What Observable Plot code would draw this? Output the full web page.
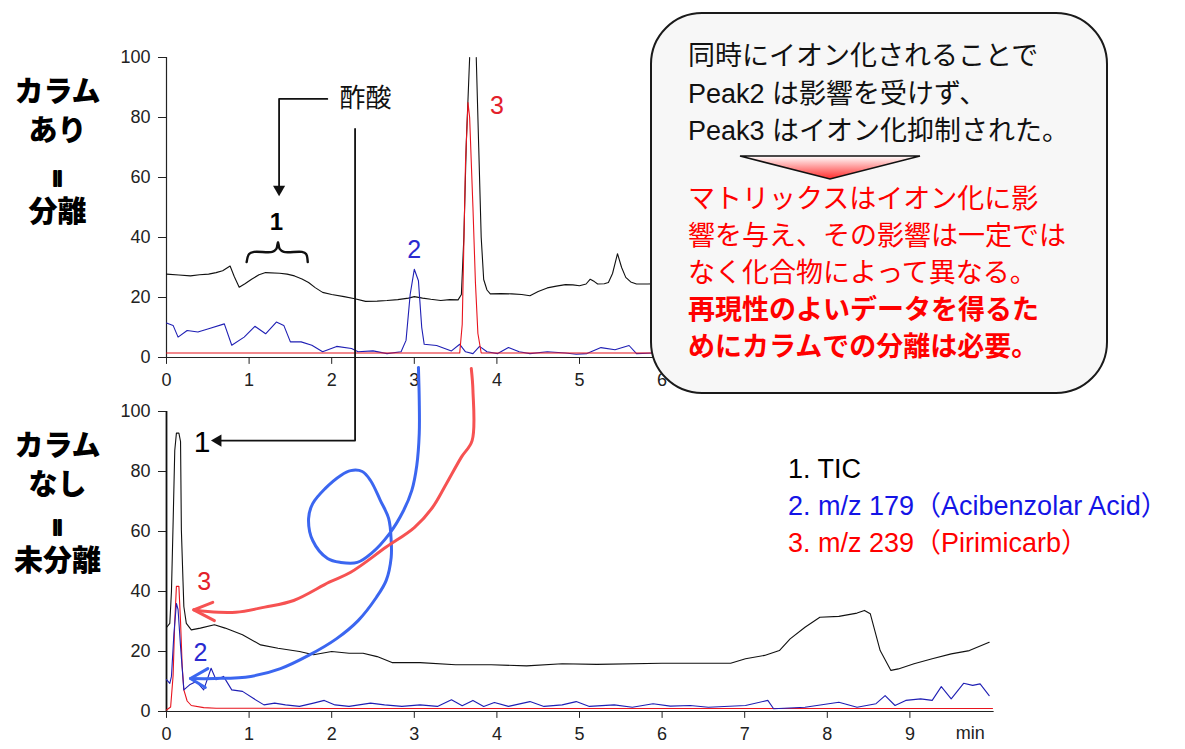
<!DOCTYPE html>
<html><head><meta charset="utf-8">
<script src="https://cdn.jsdelivr.net/npm/d3@7"></script>
<script src="https://cdn.jsdelivr.net/npm/@observablehq/plot@0.6"></script>
<style>
html,body{margin:0;padding:0;background:#fff;overflow:hidden;}
#wrap{position:relative;width:1185px;height:749px;overflow:hidden;background:#fff;font-family:"Liberation Sans","Noto Sans CJK JP",sans-serif;}
#chart{position:absolute;left:0;top:0;}
#box{position:absolute;left:650px;top:12px;width:454px;height:378px;border:2px solid #1a1a1a;border-radius:52px;background:#f7f7f7;}
.blk{position:absolute;left:36px;white-space:nowrap;font-size:27px;}
#black{top:24px;line-height:37.5px;color:#111;}
#red{top:167px;line-height:37px;color:#ff0000;}
#red b{font-weight:700;}
#tri{position:absolute;left:87px;top:141px;}
#legend{position:absolute;left:788px;top:451px;font-size:27px;line-height:37px;white-space:nowrap;}
</style></head>
<body>
<div id="wrap">
  <div id="chart"></div>
  <div id="box">
    <div id="black" class="blk"></div>
    <svg id="tri" width="182" height="26">
      <defs><linearGradient id="g" x1="0" y1="0" x2="0" y2="1">
        <stop offset="0" stop-color="#ffffff"/><stop offset="1" stop-color="#ff2a2a"/></linearGradient></defs>
      <polygon points="1,1 181,1 91,24" fill="url(#g)" stroke="#111" stroke-width="1.5" stroke-linejoin="miter"/>
    </svg>
    <div id="red" class="blk"></div>
  </div>
  <div id="legend"></div>
</div>
<script>
// ---------- data ----------
const xTicks = [0,1,2,3,4,5,6,7,8,9];
const yTicks = [0,20,40,60,80,100];
const seriesNames = ["1. TIC", "2. m/z 179（Acibenzolar Acid）", "3. m/z 239（Pirimicarb）"];
const seriesColors = ["#000000", "#1414e6", "#ff0000"];
const boxBlack = ["同時にイオン化されることで", "Peak2 は影響を受けず、", "Peak3 はイオン化抑制された。"];
const boxRed = ["マトリックスはイオン化に影", "響を与え、その影響は一定では", "なく化合物によって異なる。"];
const boxRedBold = ["再現性のよいデータを得るた", "めにカラムでの分離は必要。"];
const sideTop = ["カラム", "あり", "||", "分離"];
const sideBottom = ["カラム", "なし", "||", "未分離"];

// top panel (with column): [min, %]; NaN = off scale (above 100)
const topTIC = [[0,27.8],[0.15,27.5],[0.29,27.2],[0.4,27.6],[0.51,27.8],[0.6,28.3],[0.68,28.9],[0.77,30.5],[0.82,27],[0.88,23.4],[0.95,24.6],[1.03,26.1],[1.12,27.6],[1.2,28.3],[1.37,28.1],[1.46,27.8],[1.55,27.2],[1.64,26.2],[1.72,25],[1.8,23.3],[1.89,21.7],[2.0,21],[2.15,20.3],[2.28,19.6],[2.41,18.7],[2.55,18.8],[2.67,19],[2.8,19.3],[2.93,19.8],[3.0,20.3],[3.1,19.8],[3.2,19.4],[3.32,19],[3.43,19.3],[3.53,19.2],[3.57,21],[3.6,40],[3.63,72],[3.67,100],[3.71,NaN],[3.75,100],[3.78,70],[3.81,40],[3.84,26],[3.88,22.5],[3.92,21.2],[4.05,21.3],[4.18,21.2],[4.3,21],[4.4,20.6],[4.5,22],[4.61,23.2],[4.72,23.8],[4.83,24.3],[4.92,24.2],[5.0,23.9],[5.08,24.5],[5.13,26.1],[5.18,25.3],[5.22,24.5],[5.3,24.6],[5.35,25],[5.4,28],[5.46,34.6],[5.51,30],[5.56,26.7],[5.62,25.2],[5.69,24.5],[5.82,24.5],[5.95,24.6]];
const topMz179 = [[0,11.5],[0.08,10.7],[0.14,6.8],[0.25,9],[0.38,8.5],[0.51,9.6],[0.7,11.2],[0.79,4.1],[0.94,6.8],[1.07,10.4],[1.2,7.9],[1.33,11.8],[1.42,10.7],[1.5,5.2],[1.63,5.2],[1.76,4.1],[1.89,1.9],[2.06,3.7],[2.24,3],[2.32,1.9],[2.5,2.2],[2.67,1.3],[2.84,1.9],[2.9,5.7],[2.95,21],[3.0,29.4],[3.05,25.6],[3.09,10],[3.12,4.4],[3.27,4],[3.45,2.2],[3.55,4.4],[3.62,1.9],[3.71,1.3],[3.79,3.7],[3.88,1.9],[4.01,1.3],[4.14,3.3],[4.27,1.9],[4.4,1.3],[4.61,1.9],[4.83,1.5],[4.96,1.1],[5.09,1.3],[5.26,3.3],[5.43,2.6],[5.6,4],[5.69,1.3],[5.9,1.5]];
const topMz239 = [[0,1.5],[1,1.5],[2,1.5],[3,1.5],[3.55,1.5],[3.58,11],[3.62,65],[3.65,85],[3.67,80],[3.71,50],[3.74,25],[3.77,8],[3.81,1.5],[4.5,1.5],[5.2,1.5],[5.95,1.5]];

// bottom panel (no column)
const botTIC = [[0,28],[0.04,29.4],[0.06,40],[0.08,62.8],[0.1,87],[0.12,92.8],[0.15,92.8],[0.17,90],[0.18,60.6],[0.2,43.3],[0.21,35],[0.24,29.4],[0.3,27.2],[0.41,27.8],[0.58,28.9],[0.71,27.8],[0.92,25.6],[1.14,22.2],[1.35,21.1],[1.61,20],[1.78,18.9],[2.0,20],[2.21,19.4],[2.38,19.4],[2.55,18.3],[2.73,16.3],[3.07,16.3],[3.5,15.6],[3.93,15.6],[4.36,15.2],[4.79,15.9],[5.21,15.7],[6.0,16.1],[6.83,16.1],[7.01,17.6],[7.24,18.7],[7.42,20.3],[7.55,24.2],[7.73,28.1],[7.91,31.4],[8.14,31.7],[8.36,32.8],[8.45,33.7],[8.52,32.6],[8.64,20.3],[8.77,13.7],[8.86,14.2],[9.05,15.9],[9.27,17.6],[9.5,19.2],[9.72,20.3],[9.96,23.1]];
const botMz179 = [[0,10.6],[0.04,9.4],[0.06,11.7],[0.09,26],[0.12,36],[0.14,34],[0.17,21.7],[0.21,7.2],[0.28,8.9],[0.36,10],[0.45,7.2],[0.54,14.4],[0.6,10.6],[0.69,11.7],[0.79,7.2],[0.92,6.7],[1.05,4.4],[1.18,2.2],[1.31,2.8],[1.44,2.2],[1.61,1.7],[1.78,2.8],[1.91,3.7],[2.04,2.2],[2.21,1.7],[2.47,2.8],[2.64,2.2],[2.85,1.7],[3.07,2.2],[3.28,1.7],[3.45,3.9],[3.58,1.9],[3.71,3.7],[3.84,1.7],[3.97,3],[4.14,1.7],[4.4,3.3],[4.57,1.7],[4.79,2.2],[4.96,3.3],[5.12,1.7],[5.42,2.2],[5.64,1.4],[5.89,2.6],[6.1,1.8],[6.34,2],[6.56,1.4],[7.01,2],[7.28,3.7],[7.35,0.9],[7.73,1.4],[8.14,3.1],[8.36,1.4],[8.59,2.6],[8.7,5.3],[8.82,2],[8.95,3.7],[9.13,4.2],[9.27,3.7],[9.38,8.3],[9.5,4.2],[9.65,9.4],[9.76,8.7],[9.85,9.2],[9.96,5.3]];
const botMz239 = [[0,0.5],[0.05,1.5],[0.08,12],[0.1,30],[0.12,41.7],[0.15,41.7],[0.17,30],[0.19,15],[0.21,7.2],[0.25,3.5],[0.3,2],[0.45,1.3],[0.6,1.1],[2,1],[4,1],[6,1],[8,1],[10,1]];

// hand-drawn annotation strokes, in bottom-panel units (min, %), extended above 100 toward the top panel
const blueStroke = [[3.05,114.7],[3.06,103.7],[3.06,92.7],[3.03,82],[2.97,73.7],[2.87,67],[2.70,59.3],[2.48,52.7],[2.31,49.7],[2.11,49.7],[1.95,51],[1.77,57],[1.72,64.3],[1.77,69.3],[1.92,74.3],[2.11,78.7],[2.23,80.3],[2.37,80],[2.47,77],[2.59,70.3],[2.69,64.3],[2.72,57],[2.72,51.3],[2.66,43.7],[2.54,38],[2.32,30.3],[2.06,24.3],[1.72,18.7],[1.38,14.3],[1.02,11.7],[0.59,11],[0.29,11]];
const blueHead = [[0.50,14.3],[0.29,11],[0.47,8]];
const redStroke = [[3.69,114.3],[3.71,107],[3.70,90.3],[3.57,84.8],[3.39,76],[3.22,68],[3.0,61.3],[2.66,54.8],[2.23,46.4],[1.97,43.1],[1.54,37],[1.19,34.8],[0.84,33.1],[0.50,33.3],[0.33,33.9]];
const redHead = [[0.56,36.4],[0.33,33.9],[0.58,30.3]];
// curly brace over region "1" (top panel units)
const brace = [[0.97,31.8],[1.0,34.5],[1.06,35.2],[1.28,35.2],[1.33,36.2],[1.35,38.4],[1.37,36.2],[1.42,35.2],[1.64,35.2],[1.69,34.5],[1.71,31.8]];

// ---------- build ----------
const OFF = 118; // top panel zero, in shared vertical units
const rows = (arr, off) => arr.map(([t, v]) => ({t, y: v + off}));
const pts = (arr, off=0) => arr.map(([t, v]) => ({t, y: v + off}));
const jp = '"Noto Sans CJK JP", sans-serif';
const lat = '"Liberation Sans", Arial, sans-serif';

const xTickRows = xTicks.flatMap(t => [{t, y1: OFF, y2: OFF - 2.3}, {t, y1: 0, y2: -2.3}]);
const xLabRows = xTicks.flatMap(t => [{t, y: OFF, s: String(t)}, {t, y: 0, s: String(t)}]);
const yTickRows = yTicks.flatMap(v => [{v, y: v}, {v, y: v + OFF}]);

const sideX = -1.32;
const sideRows = [
  ...sideTop.map((s, i) => ({s, y: [206.3, 193.3, 178, 166.3][i]})),
  ...sideBottom.map((s, i) => ({s, y: [88.3, 75.3, 61.6, 49.8][i]}))
];

const chart = Plot.plot({
  width: 1185, height: 749,
  marginLeft: 166, marginRight: 193, marginTop: 21, marginBottom: 38,
  x: {domain: [0, 10], axis: null},
  y: {domain: [0, 230], axis: null},
  style: {background: "transparent", fontFamily: lat},
  marks: [
    // axes lines
    Plot.ruleY([OFF, 0], {x1: 0, x2: 10.02, stroke: "#222", strokeWidth: 1.2}),
    Plot.ruleX([0], {y1: OFF, y2: OFF + 100, stroke: "#222", strokeWidth: 1.2}),
    Plot.ruleX([0], {y1: 0, y2: 100, stroke: "#111", strokeWidth: 1.8}),
    // ticks
    Plot.ruleY(yTickRows, {y: "y", x1: -0.097, x2: 0, stroke: "#222"}),
    Plot.ruleX(xTickRows, {x: "t", y1: "y1", y2: "y2", stroke: "#222"}),
    Plot.text(yTickRows, {x: 0, y: "y", text: d => String(d.v), dx: -16, textAnchor: "end", fontSize: 18, fill: "#222"}),
    Plot.text(xLabRows, {x: "t", y: "y", text: "s", dy: 23, fontSize: 18, fill: "#222"}),
    Plot.text([OFF, 0], {x: 9.73, y: d => d, text: () => "min", dy: 22, fontSize: 18, fill: "#222"}),
    // chromatogram traces
    Plot.line(rows(topTIC, OFF), {x: "t", y: "y", stroke: "#111", strokeWidth: 1.1}),
    Plot.line(rows(topMz179, OFF), {x: "t", y: "y", stroke: "#1f1fb4", strokeWidth: 1.1}),
    Plot.line(rows(topMz239, OFF), {x: "t", y: "y", stroke: "#e8141e", strokeWidth: 1.1}),
    Plot.line(rows(botTIC, 0), {x: "t", y: "y", stroke: "#111", strokeWidth: 1.1}),
    Plot.line(rows(botMz239, 0), {x: "t", y: "y", stroke: "#e8141e", strokeWidth: 1.1}),
    Plot.line(rows(botMz179, 0), {x: "t", y: "y", stroke: "#1f1fb4", strokeWidth: 1.1}),
    // peak labels
    Plot.text([{t: 3.0, y: 154, s: "2"}], {x: "t", y: "y", text: "s", fontSize: 25, fill: "#2a2ad0"}),
    Plot.text([{t: 4.0, y: 202, s: "3"}], {x: "t", y: "y", text: "s", fontSize: 25, fill: "#e3202a"}),
    Plot.text([{t: 1.33, y: 163.2, s: "1"}], {x: "t", y: "y", text: "s", fontSize: 24, fontWeight: "bold", fill: "#000"}),
    Plot.text([{t: 0.43, y: 89.7, s: "1"}], {x: "t", y: "y", text: "s", fontSize: 30, fill: "#000"}),
    Plot.text([{t: 0.455, y: 43.3, s: "3"}], {x: "t", y: "y", text: "s", fontSize: 25, fill: "#e3202a"}),
    Plot.text([{t: 0.41, y: 19.5, s: "2"}], {x: "t", y: "y", text: "s", fontSize: 25, fill: "#2a2ad0"}),
    // 酢酸 annotation
    Plot.text([{t: 2.41, y: 204.2, s: "酢酸"}], {x: "t", y: "y", text: "s", fontSize: 26, fontFamily: jp, fill: "#111"}),
    Plot.line(pts([[1.947, 86.2], [1.363, 86.2], [1.363, 56.5]], OFF), {x: "t", y: "y", stroke: "#111", strokeWidth: 1.8}),
    Plot.dot([{t: 1.363, y: 54 + 2.1 + OFF}], {x: "t", y: "y", symbol: "triangle", r: 4.5, fill: "#111", stroke: "none", rotate: 180}),
    Plot.line([{t: 2.283, y: 194.2}, {t: 2.283, y: 90.3}, {t: 0.6, y: 90.3}], {x: "t", y: "y", stroke: "#111", strokeWidth: 1.8}),
    Plot.dot([{t: 0.623, y: 90.3}], {x: "t", y: "y", symbol: "triangle", r: 4.5, fill: "#111", stroke: "none", rotate: -90}),
    Plot.line(pts(brace, OFF), {x: "t", y: "y", curve: "catmull-rom", stroke: "#111", strokeWidth: 2.4, strokeLinecap: "round"}),
    // hand-drawn arrows
    Plot.line(pts(blueStroke), {x: "t", y: "y", curve: "catmull-rom", stroke: "#3b66f0", strokeWidth: 3, strokeLinecap: "round", strokeLinejoin: "round"}),
    Plot.line(pts(blueHead), {x: "t", y: "y", stroke: "#3b66f0", strokeWidth: 3, strokeLinecap: "round", strokeLinejoin: "round"}),
    Plot.line(pts(redStroke), {x: "t", y: "y", curve: "catmull-rom", stroke: "#f65252", strokeWidth: 3, strokeLinecap: "round", strokeLinejoin: "round"}),
    Plot.line(pts(redHead), {x: "t", y: "y", stroke: "#f65252", strokeWidth: 3, strokeLinecap: "round", strokeLinejoin: "round"}),
    // side labels
    Plot.text(sideRows.filter(d => d.s !== "||"), {x: sideX, y: "y", text: "s", fontSize: 29, fontWeight: 900, fontFamily: jp, fill: "#000"}),
    Plot.text(sideRows.filter(d => d.s === "||"), {x: sideX, y: "y", text: "s", fontSize: 16, fontWeight: "bold", fontFamily: lat, fill: "#000", stroke: "#000", strokeWidth: 2})
  ]
});
document.getElementById("chart").appendChild(chart);

// callout & legend text
document.getElementById("black").innerHTML = boxBlack.join("<br>");
document.getElementById("red").innerHTML = boxRed.join("<br>") + "<br>" + boxRedBold.map(s => "<b>" + s + "</b>").join("<br>");
document.getElementById("legend").innerHTML = seriesNames.map((s, i) => `<div style="color:${seriesColors[i]}">${s}</div>`).join("");
</script>
</body></html>
